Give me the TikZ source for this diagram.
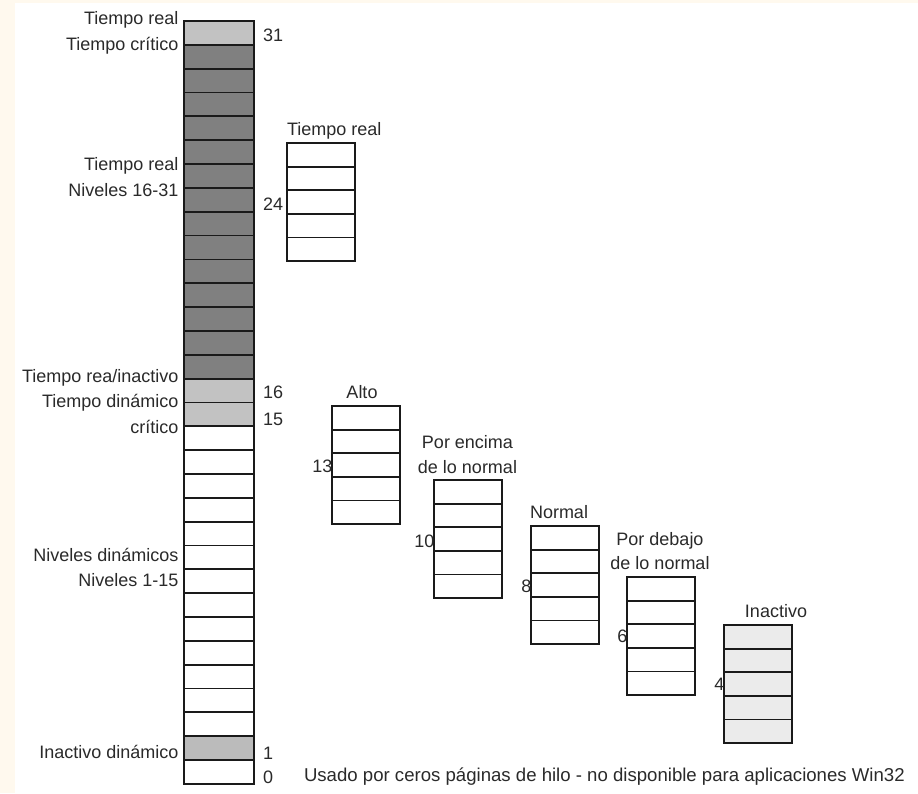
\documentclass[tikz,border=0pt]{standalone}
\usepackage{fontspec}
\setmainfont{Liberation Sans}
\definecolor{cream}{HTML}{FFF9EE}
\definecolor{edge}{HTML}{1A1A1A}
\definecolor{txt}{HTML}{2A2A2A}
\definecolor{rtlight}{HTML}{C2C2C2}
\definecolor{rtdark}{HTML}{808080}
\definecolor{idle}{HTML}{BBBBBB}
\definecolor{idlebox}{HTML}{EBEBEB}
\begin{document}
\begin{tikzpicture}[x=1pt,y=-1pt,
  lbl/.style={inner sep=0pt, outer sep=0pt, font=\fontsize{18}{21}\selectfont, text=txt},
  cell/.style={draw=edge, line width=1.8pt, minimum width=70pt, minimum height=23.84pt, inner sep=0pt, outer sep=0pt},
  subcell/.style={cell, minimum width=68pt, minimum height=23.6pt}]
% page and background
\useasboundingbox (0,0) rectangle (918,793);
\fill[cream] (0,0) rectangle (918,793);
\fill[white] (15,3) rectangle (918,793);

% priority column, levels 0..31
\foreach \L in {0,...,31}{
  \pgfmathsetmacro\cy{21+(31-\L+0.5)*23.84}
  \ifnum\L=31 \def\f{rtlight}\else
  \ifnum\L>16 \def\f{rtdark}\else
  \ifnum\L>14 \def\f{rtlight}\else
  \ifnum\L=1 \def\f{idle}\else \def\f{white}\fi\fi\fi\fi
  \node[cell, fill=\f] (m\L) at (219,\cy) {};
}

% priority classes, five levels each
\foreach \n/\xl/\yt/\f in {tr/287/143/white, al/332/406/white, pe/434/480/white,
    no/531/526/white, pd/627/577/white, in/724/625/idlebox}{
  \foreach \k in {1,...,5}{
    \pgfmathsetmacro\cy{\yt+(\k-0.5)*23.6}
    \node[subcell, fill=\f] (\n\k) at ({\xl+34},\cy) {};
  }
}

% labels left of the column
\node[lbl, anchor=base east] (l1) at (178.5,24) {Tiempo real};
\node[lbl, anchor=base east] (l2) at (178.5,50.5) {Tiempo crítico};
\node[lbl, anchor=base east] (l3) at (178.5,170.5) {Tiempo real};
\node[lbl, anchor=base east] (l4) at (178.5,196) {Niveles 16-31};
\node[lbl, anchor=base east] (l5) at (178.5,382) {Tiempo rea/inactivo};
\node[lbl, anchor=base east] (l6) at (178.5,407) {Tiempo dinámico};
\node[lbl, anchor=base east] (l7) at (178.5,433) {crítico};
\node[lbl, anchor=base east] (l8) at (178.5,561.5) {Niveles dinámicos};
\node[lbl, anchor=base east] (l9) at (178.5,586.5) {Niveles 1-15};
\node[lbl, anchor=base east] (l10) at (178.5,758) {Inactivo dinámico};

% level numbers right of the column
\node[lbl, anchor=base west] (n31) at (263,41) {31};
\node[lbl, anchor=base west] (n24) at (263,210) {24};
\node[lbl, anchor=base west] (n16) at (263,398) {16};
\node[lbl, anchor=base west] (n15) at (263,425) {15};
\node[lbl, anchor=base west] (n1) at (263,759) {1};
\node[lbl, anchor=base west] (n0) at (263,783) {0};

% class titles
\node[lbl, anchor=base west] (ttr) at (287,135) {Tiempo real};
\node[lbl, anchor=base] (tal) at (362,398) {Alto};
\node[lbl, anchor=base] (tpe1) at (467.5,448) {Por encima};
\node[lbl, anchor=base] (tpe2) at (467.5,473) {de lo normal};
\node[lbl, anchor=base west] (tno) at (530,518) {Normal};
\node[lbl, anchor=base] (tpd1) at (660,545) {Por debajo};
\node[lbl, anchor=base] (tpd2) at (660,569) {de lo normal};
\node[lbl, anchor=base] (tin) at (776,617) {Inactivo};

% base priority of each class
\node[lbl, anchor=base east] (b13) at (332.5,472) {13};
\node[lbl, anchor=base east] (b10) at (434.5,547) {10};
\node[lbl, anchor=base east] (b8) at (531.5,592) {8};
\node[lbl, anchor=base east] (b6) at (627.5,642) {6};
\node[lbl, anchor=base east] (b4) at (724.5,690) {4};

% note on level 0
\node[lbl, anchor=base west, font=\fontsize{18.6}{21}\selectfont] (note) at (304,781) {Usado por ceros páginas de hilo - no disponible para aplicaciones Win32};
\end{tikzpicture}
\end{document}
